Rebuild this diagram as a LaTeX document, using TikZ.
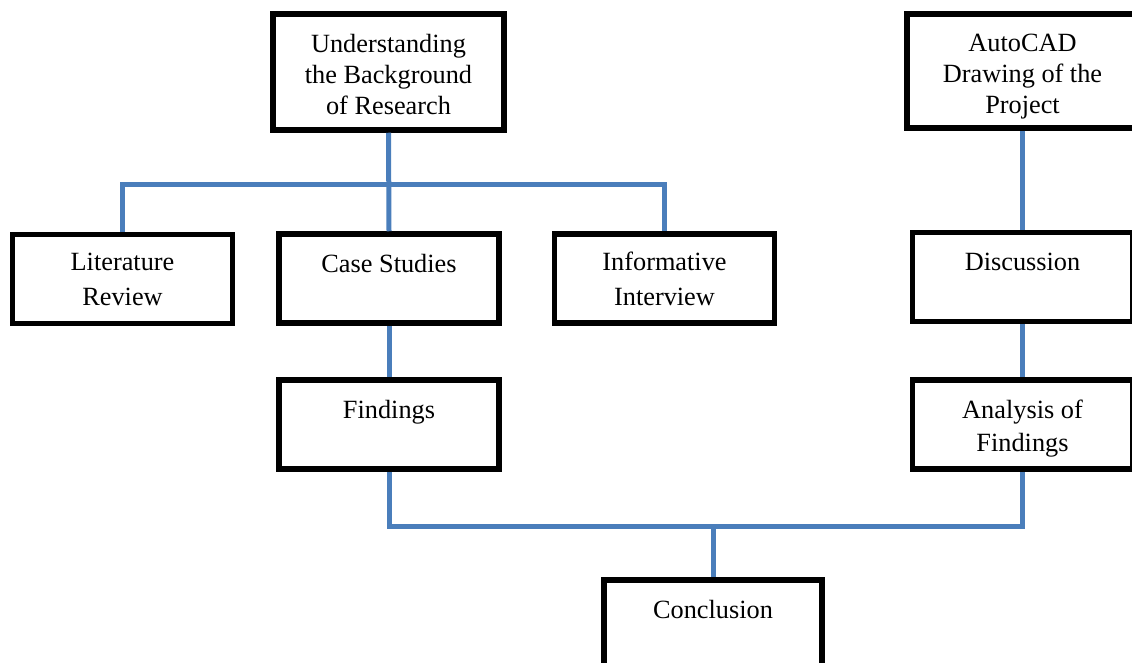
\documentclass[tikz,border=0pt]{standalone}
\usepackage{fontspec}
\setmainfont{Liberation Serif}
\definecolor{linkblue}{RGB}{74,126,187}
\begin{document}
\begin{tikzpicture}[
  x=1pt, y=-1pt,
  box/.style={draw, line width=5.5pt, minimum width=220pt, minimum height=89pt, inner sep=0pt},
  txt/.style={anchor=north, align=center, inner sep=0pt, font=\fontsize{26.3}{31}\selectfont},
  link/.style={draw=linkblue, line width=5pt}
]
\useasboundingbox (0,0) rectangle (1132,663);
\clip (0,0) rectangle (1132,663);
\node[box, minimum width=231pt, minimum height=116pt] (und) at (388.5,72) {};
\node[box, minimum width=231pt, minimum height=114pt] (cad) at (1022.5,71) {};
\node[box] (lit) at (122.5,279) {};
\node[box] (cas) at (389,278.5) {};
\node[box] (inf) at (664.5,278.5) {};
\node[box] (dis) at (1022.5,277) {};
\node[box] (fin) at (389,424.5) {};
\node[box] (ana) at (1022.5,424.5) {};
\node[box, minimum width=218pt] (con) at (713,624.5) {};
\node[txt] (und-t) at ([yshift=-23pt]und.north) {Understanding\\the Background\\of Research};
\node[txt] (cad-t) at ([yshift=-23pt]cad.north) {AutoCAD\\Drawing of the\\Project};
\node[txt, font=\fontsize{26.3}{35}\selectfont] (lit-t) at ([yshift=-21pt]lit.north) {Literature\\Review};
\node[txt] (cas-t) at ([yshift=-23pt]cas.north) {Case Studies};
\node[txt, font=\fontsize{26.3}{35}\selectfont] (inf-t) at ([yshift=-21pt]inf.north) {Informative\\Interview};
\node[txt] (dis-t) at ([yshift=-23pt]dis.north) {Discussion};
\node[txt] (fin-t) at ([yshift=-23pt]fin.north) {Findings};
\node[txt, font=\fontsize{26.3}{33}\selectfont] (ana-t) at ([yshift=-23pt]ana.north) {Analysis of\\Findings};
\node[txt] (con-t) at ([yshift=-23pt]con.north) {Conclusion};
\coordinate (fork) at (388.5,185);
\coordinate (join) at (713,526);
\draw[link] (und.south) -- (cas.north);
\draw[link] (lit.north) -- (lit.north |- fork) -- (inf.north |- fork) -- (inf.north);
\draw[link] (cas.south) -- (fin.north);
\draw[link] (cad.south) -- (dis.north);
\draw[link] (dis.south) -- (ana.north);
\draw[link] (fin.south) -- (fin.south |- join) -- (ana.south |- join) -- (ana.south);
\draw[link] (con.north) -- (join);
\end{tikzpicture}
\end{document}
